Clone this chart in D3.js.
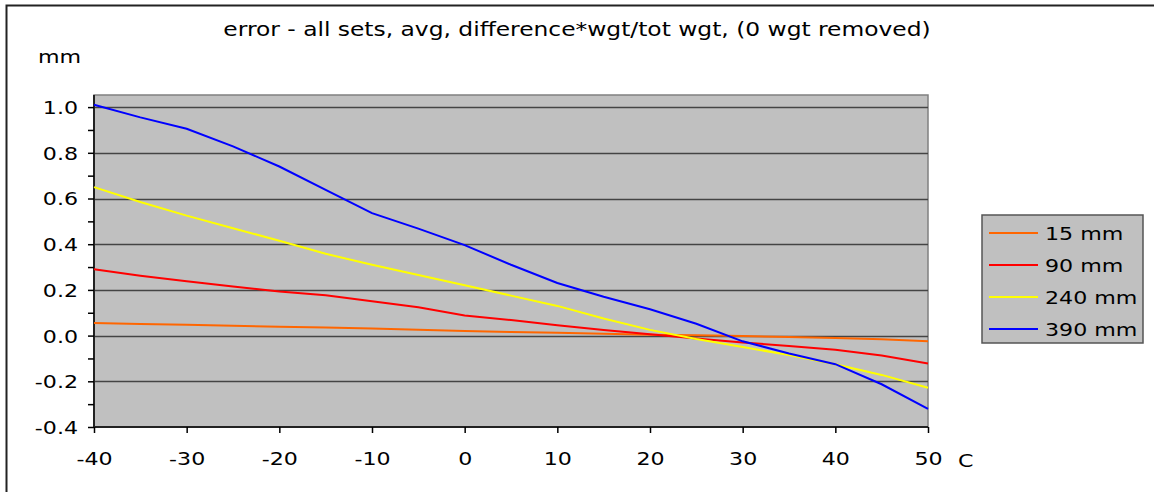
<!DOCTYPE html>
<html>
  <head>
    <meta charset="utf-8" />
    <title>error chart</title>
    <script src="https://d3js.org/d3.v7.min.js"></script>
    <style>
      body {
        margin: 0;
        background: #fff;
      }
      text {
        font-family: "DejaVu Sans", Verdana, sans-serif;
        fill: #000;
      }
    </style>
  </head>
  <body>

    <svg id="chart"></svg>

    <script>

      // temperatures (C)
      var temps = [-40, -35, -30, -25, -20, -15, -10, -5, 0, 5, 10, 15, 20, 25, 30, 35, 40, 45, 50];

      var series15 = [0.055, 0.051, 0.047, 0.043, 0.039, 0.035, 0.031, 0.026, 0.020, 0.016, 0.012, 0.008, 0.004, 0.001, -0.002, -0.006, -0.010, -0.016, -0.025];
      var series90 = [0.290, 0.262, 0.238, 0.215, 0.193, 0.177, 0.150, 0.124, 0.088, 0.068, 0.045, 0.025, 0.006, -0.013, -0.030, -0.045, -0.062, -0.087, -0.122];
      var series240 = [0.650, 0.585, 0.525, 0.470, 0.415, 0.358, 0.310, 0.265, 0.220, 0.175, 0.130, 0.075, 0.025, -0.015, -0.050, -0.085, -0.125, -0.172, -0.228];
      var series390 = [1.010, 0.955, 0.905, 0.828, 0.740, 0.638, 0.536, 0.468, 0.396, 0.310, 0.230, 0.170, 0.115, 0.052, -0.025, -0.078, -0.125, -0.213, -0.321];

      var seriesNames = ["15 mm", "90 mm", "240 mm", "390 mm"];
      var seriesColors = ["#ff6600", "#ff0000", "#ffff00", "#0000ff"];
      var allSeries = [series15, series90, series240, series390];

      var xTicks = [-40, -30, -20, -10, 0, 10, 20, 30, 40, 50];
      var yTicks = [-0.4, -0.2, 0.0, 0.2, 0.4, 0.6, 0.8, 1.0];
      var yMinorTicks = [-0.3, -0.1, 0.1, 0.3, 0.5, 0.7, 0.9];

      var width = 1154;
      var height = 492;
      var plot = { left: 94, right: 928, top: 95, bottom: 427 };
      var k = 1.23; // the original's text is stretched sideways

      var svg = d3.select("#chart")
        .attr("width", width)
        .attr("height", height);

      // stretched text helper
      function wideText(parent, x, y, str, size, anchor) {
        return parent.append("text")
          .attr("x", x / k).attr("y", y)
          .attr("transform", "scale(" + k + ",1)")
          .attr("text-anchor", anchor || "start")
          .attr("font-size", size + "px")
          .text(str);
      }

      // outer chart border (runs off the right/bottom)
      svg.append("rect")
        .attr("x", 6.5).attr("y", 5.5)
        .attr("width", 1300).attr("height", 600)
        .attr("fill", "#fff")
        .attr("stroke", "#222")
        .attr("stroke-width", 2);

      var x = d3.scaleLinear()
        .domain([-40, 50])
        .range([plot.left, plot.right]);

      var y = d3.scaleLinear()
        .domain([-0.4, 1.053])
        .range([plot.bottom, plot.top]);

      // plot area
      svg.append("rect")
        .attr("x", plot.left).attr("y", plot.top)
        .attr("width", plot.right - plot.left)
        .attr("height", plot.bottom - plot.top)
        .attr("fill", "#c0c0c0")
        .attr("stroke", "#808080")
        .attr("stroke-width", 1.5);

      // gridlines
      svg.append("g").selectAll("line")
        .data(yTicks.slice(1))
        .enter().append("line")
        .attr("x1", plot.left).attr("x2", plot.right)
        .attr("y1", function(d) { return Math.round(y(d)) + 0.5; })
        .attr("y2", function(d) { return Math.round(y(d)) + 0.5; })
        .attr("stroke", "#444")
        .attr("stroke-width", 1.5);

      // y axis
      var yAxis = d3.axisLeft(y)
        .tickValues(yTicks)
        .tickSize(6)
        .tickFormat(function(d) { return d3.format(".1f")(d).replace("\u2212", "-"); });
      var gy = svg.append("g")
        .attr("transform", "translate(" + plot.left + ",0)")
        .call(yAxis);

      var gyMinor = svg.append("g")
        .attr("transform", "translate(" + plot.left + ",0)")
        .call(d3.axisLeft(y).tickValues(yMinorTicks).tickSize(6).tickFormat(""));
      gyMinor.select(".domain").remove();

      // x axis
      var xAxis = d3.axisBottom(x)
        .tickValues(xTicks)
        .tickSize(6)
        .tickFormat(function(d) { return String(d); });
      var gx = svg.append("g")
        .attr("transform", "translate(0," + plot.bottom + ")")
        .call(xAxis);

      [gx, gy, gyMinor].forEach(function(g) {
        g.selectAll("line").attr("stroke", "#000").attr("stroke-width", 1.5);
        g.selectAll(".domain").attr("stroke", "#222").attr("stroke-width", 2);
        g.selectAll("text")
          .attr("font-family", "DejaVu Sans, Verdana, sans-serif")
          .attr("font-size", "18px")
          .attr("fill", "#000")
          .attr("transform", "scale(" + k + ",1)");
      });
      gy.selectAll("text").attr("x", -16 / k).attr("dy", "0.36em");
      gx.selectAll("text").attr("y", 38).attr("dy", 0);
      gy.select(".domain").attr("d", "M0," + plot.top + "V" + plot.bottom);
      gx.select(".domain").attr("d", "M" + plot.left + ",0H" + plot.right);

      // lines
      var line = d3.line()
        .x(function(d) { return x(d[0]); })
        .y(function(d) { return y(d[1]); });

      allSeries.forEach(function(vals, i) {
        var pts = temps.map(function(t, j) { return [t, vals[j]]; });
        svg.append("path")
          .datum(pts)
          .attr("d", line)
          .attr("fill", "none")
          .attr("stroke", seriesColors[i])
          .attr("stroke-width", 2);
      });

      // title and axis labels
      wideText(svg, 577, 36, "error - all sets, avg, difference*wgt/tot wgt, (0 wgt removed)", 19, "middle");
      wideText(svg, 38, 63, "mm", 18);
      wideText(svg, 958, 467, "C", 18);

      // legend
      var legend = svg.append("g");
      legend.append("rect")
        .attr("x", 982).attr("y", 215)
        .attr("width", 161).attr("height", 128)
        .attr("fill", "#c0c0c0")
        .attr("stroke", "#555")
        .attr("stroke-width", 1.5);

      seriesNames.forEach(function(name, i) {
        var ry = 233 + i * 32;
        legend.append("line")
          .attr("x1", 989).attr("x2", 1038)
          .attr("y1", ry).attr("y2", ry)
          .attr("stroke", seriesColors[i])
          .attr("stroke-width", 2);
        wideText(legend, 1045, ry + 7.5, name, 18);
      });

    </script>

  </body>
</html>
